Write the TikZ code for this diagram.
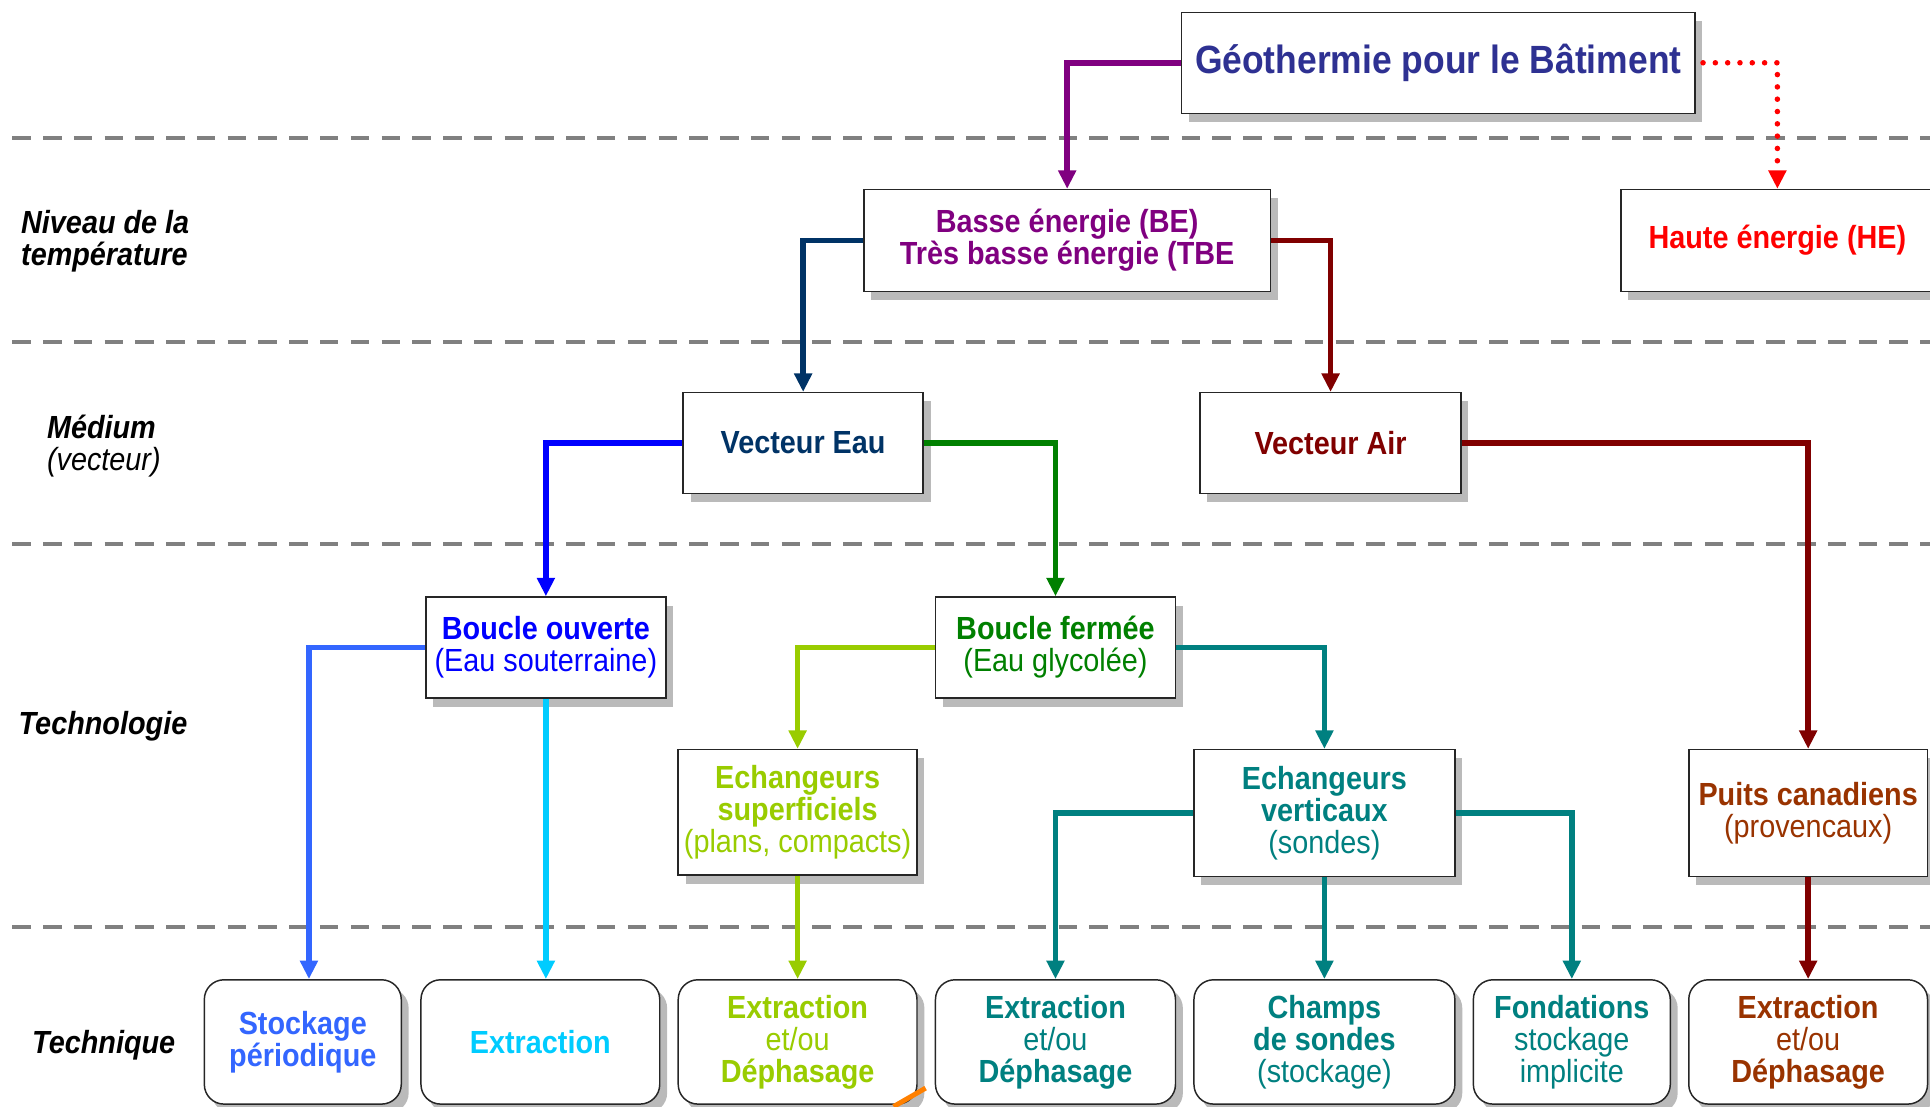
\documentclass[tikz,border=0pt]{standalone}
\usepackage{fontspec}
\setmainfont{Liberation Sans}
\newfontfamily\nrw{Liberation Sans}[FakeStretch=0.9]
\usetikzlibrary{arrows.meta,shadows,calc}
\definecolor{geoblue}{HTML}{2E3192}
\definecolor{cpurple}{HTML}{800080}
\definecolor{cred}{HTML}{FF0000}
\definecolor{cnavy}{HTML}{003366}
\definecolor{cdred}{HTML}{800000}
\definecolor{cblue}{HTML}{0000FF}
\definecolor{cgreen}{HTML}{008000}
\definecolor{clime}{HTML}{99CC00}
\definecolor{cteal}{HTML}{008080}
\definecolor{cbrown}{HTML}{993300}
\definecolor{cstock}{HTML}{3366FF}
\definecolor{ccyan}{HTML}{00CCFF}
\definecolor{cgrid}{HTML}{808080}
\tikzset{
  boxsh/.style={draw=black!85, line width=1.2pt, fill=white, inner sep=0pt, align=center,
    drop shadow={shadow xshift=6pt, shadow yshift=-7pt, opacity=0.45, fill=black!60},
    font=\nrw\bfseries\fontsize{26}{26}\selectfont},
  roundbox/.style={boxsh, rounded corners=16pt},
  conn/.style={line width=4.5pt, -{Triangle[length=15pt,width=14pt]}},
  gridline/.style={cgrid, line width=3.5pt, dash pattern=on 15pt off 10pt},
  sidelab/.style={anchor=west, align=left, inner sep=0pt, font=\nrw\bfseries\itshape\fontsize{26}{26}\selectfont}
}
\begin{document}
\begin{tikzpicture}[x=1pt,y=-1pt]
\useasboundingbox (0,0) rectangle (1568,899);
% grid lines
\foreach \yy in {112,278,442,753} \draw[gridline] (10,\yy) -- (1568,\yy);

% side labels
\node[sidelab] (l1) at (17,196) {Niveau de la\\température};
\node[sidelab] (l2) at (38,362) {Médium\\{\mdseries (vecteur)}};
\node[sidelab] (l3) at (15,590) {Technologie};
\node[sidelab] (l4) at (26,849) {Technique};

% nodes
\node[boxsh, minimum width=417, minimum height=82, text=geoblue, font=\nrw\bfseries\fontsize{32}{34}\selectfont] (geo) at (1168.5,51) {Géothermie pour le Bâtiment};
\node[boxsh, minimum width=330, minimum height=83, text=cpurple] (be) at (867,195.5) {Basse énergie (BE)\\Très basse énergie (TBE};
\node[boxsh, minimum width=254, minimum height=83, text=cred] (he) at (1444,195.5) {Haute énergie (HE)};
\node[boxsh, minimum width=195, minimum height=82, text=cnavy] (ve) at (652.5,360) {Vecteur Eau};
\node[boxsh, minimum width=212, minimum height=82, text=cdred] (va) at (1081,360) {Vecteur Air};
\node[boxsh, minimum width=195, minimum height=82, text=cblue] (bo) at (443.5,526) {Boucle ouverte\\{\mdseries (Eau souterraine)}};
\node[boxsh, minimum width=195, minimum height=82, text=cgreen] (bf) at (857.5,526) {Boucle fermée\\{\mdseries (Eau glycolée)}};
\node[boxsh, minimum width=194, minimum height=102, text=clime] (es) at (648,660) {Echangeurs\\superficiels\\{\mdseries (plans, compacts)}};
\node[boxsh, minimum width=212, minimum height=103, text=cteal] (ev) at (1076,660.5) {Echangeurs\\verticaux\\{\mdseries (sondes)}};
\node[boxsh, minimum width=194, minimum height=103, text=cbrown] (pc) at (1469,660.5) {Puits canadiens\\{\mdseries (provencaux)}};

\node[roundbox, minimum width=160, minimum height=101, text=cstock] (t1) at (246,846.5) {Stockage\\périodique};
\node[roundbox, minimum width=194, minimum height=101, text=ccyan] (t2) at (439,846.5) {Extraction};
\node[roundbox, minimum width=194, minimum height=101, text=clime] (t3) at (648,846.5) {Extraction\\{\mdseries et/ou}\\Déphasage};
\node[roundbox, minimum width=195, minimum height=101, text=cteal] (t4) at (857.5,846.5) {Extraction\\{\mdseries et/ou}\\Déphasage};
\node[roundbox, minimum width=212, minimum height=101, text=cteal] (t5) at (1076,846.5) {Champs\\de sondes\\{\mdseries (stockage)}};
\node[roundbox, minimum width=160, minimum height=101, text=cteal] (t6) at (1277,846.5) {Fondations\\{\mdseries stockage}\\{\mdseries implicite}};
\node[roundbox, minimum width=194, minimum height=101, text=cbrown] (t7) at (1469,846.5) {Extraction\\{\mdseries et/ou}\\Déphasage};

% connectors
\draw[conn, cpurple] (geo.west) -| (be.north);
\draw[cred, line width=4.5pt, dash pattern=on 0pt off 10pt, line cap=round, -{Triangle[length=15pt,width=14pt]}] ([xshift=6pt]geo.east) -| (he.north);
\draw[conn, cnavy] (be.west) -| (ve.north);
\draw[conn, cdred] (be.east) -| (va.north);
\draw[conn, cblue] (ve.west) -| (bo.north);
\draw[conn, cgreen] (ve.east) -| (bf.north);
\draw[conn, cdred] (va.east) -| (pc.north);
\draw[conn, cstock] (bo.west) -| ([xshift=5pt]t1.north);
\draw[conn, ccyan] (bo.south) -- (bo.south |- t2.north);
\draw[conn, clime] (bf.west) -| (es.north);
\draw[conn, cteal] (bf.east) -| (ev.north);
\draw[conn, clime] (es.south) -- (t3.north);
\draw[conn, cteal] (ev.west) -| (t4.north);
\draw[conn, cteal] (ev.south) -- (t5.north);
\draw[conn, cteal] (ev.east) -| (t6.north);
\draw[conn, cdred] (pc.south) -- (t7.north);

% cut-off fragment at the bottom edge
\draw[orange, line width=4pt] (726,899) -- (752,884);
\end{tikzpicture}
\end{document}
